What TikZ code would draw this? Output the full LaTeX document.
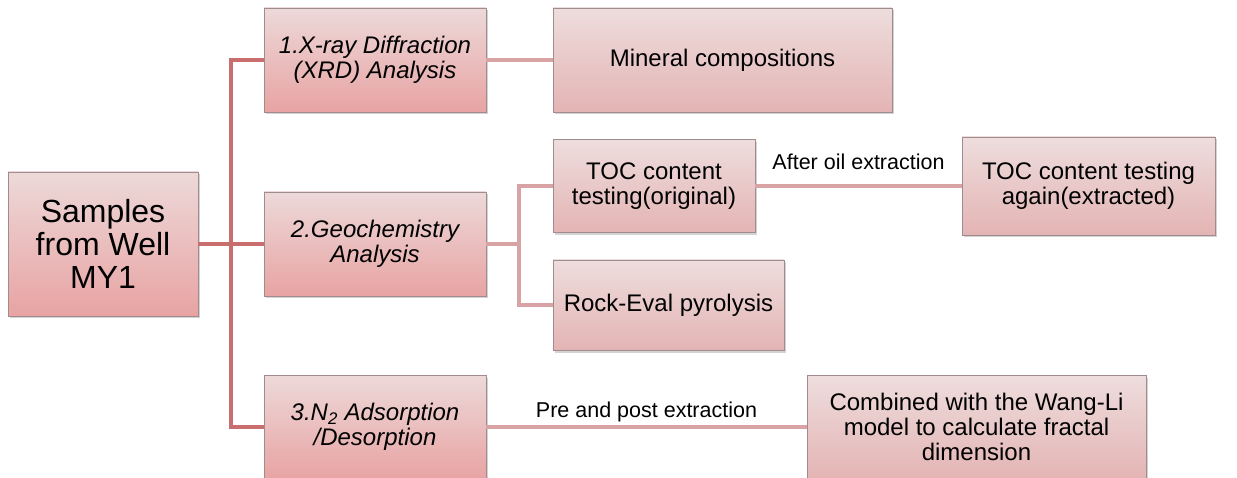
\documentclass[tikz,border=0pt]{standalone}
\usepackage{fontspec}
\setmainfont{Liberation Sans}
\usetikzlibrary{positioning,shadows}

\definecolor{framegray}{HTML}{A08C8C}
\definecolor{maintop}{HTML}{EDD9D9}
\definecolor{mainbot}{HTML}{E8A3A3}
\definecolor{subtop}{HTML}{EEDDDD}
\definecolor{subbot}{HTML}{E4B4B4}
\definecolor{trunkred}{HTML}{C96E6E}
\definecolor{branchpink}{HTML}{D9A3A5}

\tikzset{
  proc/.style={draw=framegray, line width=0.6pt, align=center, inner sep=0pt,
    top color=maintop, bottom color=mainbot,
    drop shadow={shadow xshift=1.5pt, shadow yshift=-2.5pt, opacity=0.35},
    font=\fontsize{24}{25}\selectfont},
  result/.style={proc, top color=subtop, bottom color=subbot},
  trunk/.style={draw=trunkred, line width=4pt},
  branch/.style={draw=branchpink, line width=4pt},
  lbl/.style={font=\fontsize{21.5}{23}\selectfont, inner sep=3pt}
}

\begin{document}
\begin{tikzpicture}[x=1pt,y=-1pt]
\useasboundingbox (0,0) rectangle (1237,478);

% source and methods
\node[proc, minimum width=190pt, minimum height=144pt,
      font=\fontsize{32}{33}\selectfont] (samples) at (103,244) {Samples\\from Well\\MY1};
\node[proc, minimum width=222pt, minimum height=104pt] (xrd) at (375,60)
      {\itshape 1.X-ray Diffraction\\\itshape (XRD) Analysis};
\node[proc, minimum width=222pt, minimum height=104pt] (geo) at (375,244)
      {\itshape 2.Geochemistry\\\itshape Analysis};
\node[proc, minimum width=222pt, minimum height=104pt] (nads) at (375,427)
      {\itshape 3.N\textsubscript{2} Adsorption\\\itshape /Desorption};

% results
\node[result, minimum width=339pt, minimum height=104pt] (mineral) at (722.5,60) {Mineral compositions};
\node[result, minimum width=202pt, minimum height=93pt] (toc) at (654,186) {TOC content\\testing(original)};
\node[result, minimum width=231pt, minimum height=90pt] (rock) at (668.5,305) {Rock-Eval pyrolysis};
\node[result, minimum width=253pt, minimum height=98pt] (tocx) at (1088.5,186) {TOC content testing\\again(extracted)};
\node[result, minimum width=339pt, minimum height=104pt] (fractal) at (976.5,427)
      {Combined with the Wang-Li\\model to calculate fractal\\dimension};

% connectors
\coordinate (split) at (231,244);
\coordinate (geosplit) at (519,244);
\begin{scope}[on background layer/.try]
\draw[trunk] (samples.east) -- (geo.west);
\draw[trunk] (xrd.west) -| (split) |- (nads.west);
\draw[branch] (xrd.east) -- (mineral.west);
\draw[branch] (geo.east) -- (geosplit);
\draw[branch] (toc.west) -| (geosplit) |- (rock.west);
\draw[branch] (toc.east) -- node[lbl, above=11pt] {After oil extraction} (tocx.west);
\draw[branch] (nads.east) -- node[lbl, above] {Pre and post extraction} (fractal.west);
\end{scope}
\end{tikzpicture}
\end{document}
